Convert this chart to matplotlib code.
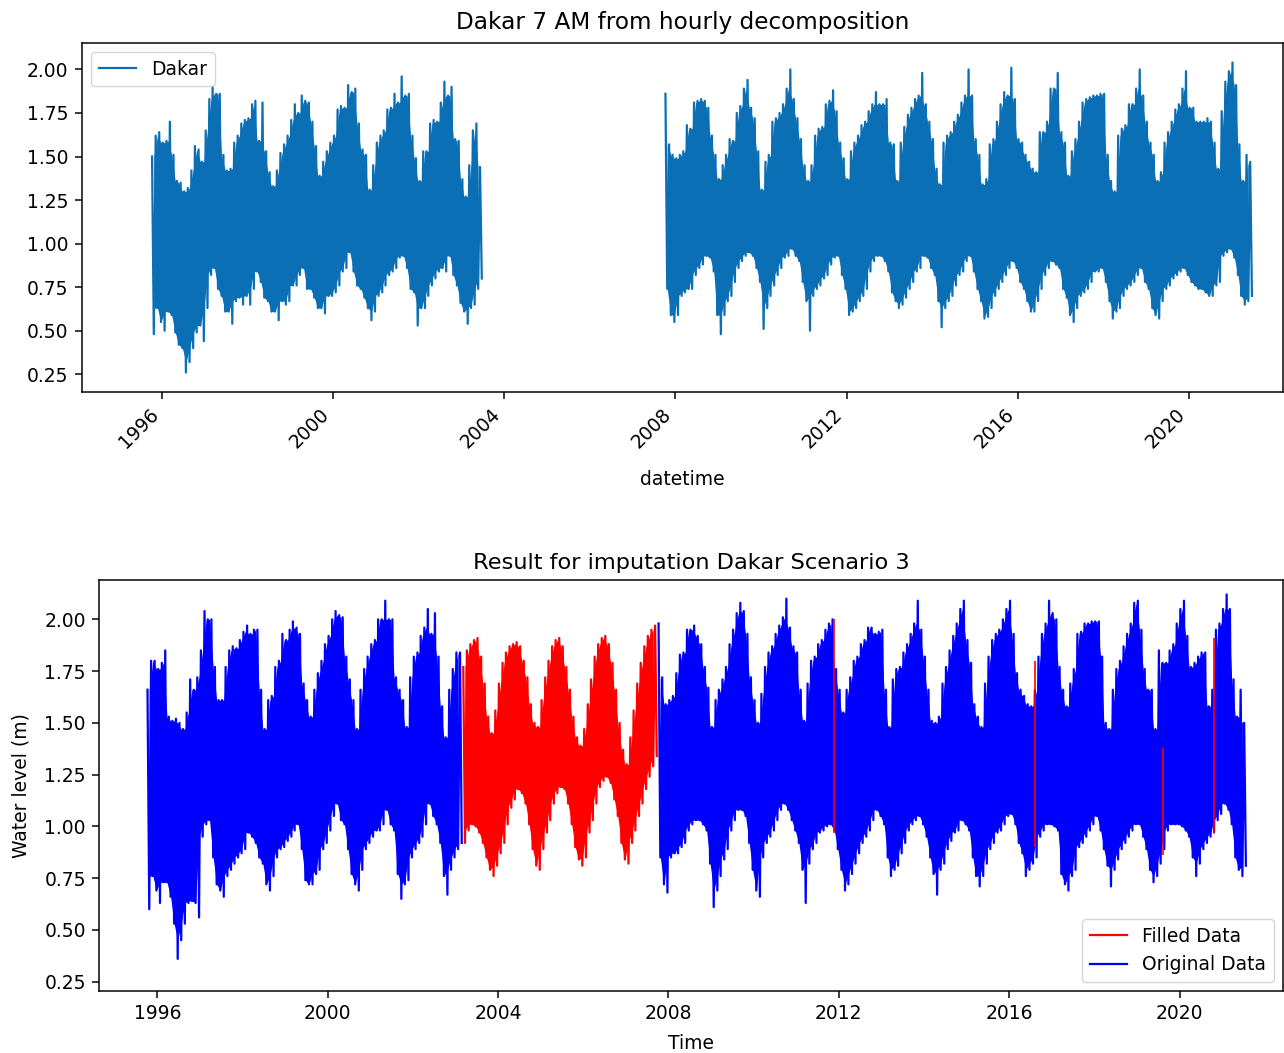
import numpy as np
import matplotlib
matplotlib.use('Agg')
import matplotlib.pyplot as plt
import matplotlib.dates as mdates

# monthly spike tops / bottoms (metres)
# top panel, first block: Oct 1995 .. Jun 2003
top_a_start = '1995-10'
top_a_hi = [1.50, 1.62, 1.64, 1.58, 1.59, 1.70, 1.51, 1.36, 1.35, 1.30, 1.32, 1.42,
            1.56, 1.54, 1.47, 1.65, 1.83, 1.90, 1.86, 1.86, 1.51, 1.42, 1.43, 1.58,
            1.62, 1.69, 1.71, 1.72, 1.80, 1.82, 1.59, 1.81, 1.53, 1.41, 1.33, 1.42,
            1.52, 1.57, 1.62, 1.71, 1.80, 1.75, 1.85, 1.82, 1.81, 1.70, 1.56, 1.39,
            1.47, 1.53, 1.58, 1.62, 1.77, 1.79, 1.78, 1.91, 1.87, 1.89, 1.69, 1.54,
            1.51, 1.31, 1.45, 1.58, 1.62, 1.65, 1.77, 1.78, 1.86, 1.81, 1.96, 1.85,
            1.86, 1.62, 1.49, 1.36, 1.53, 1.53, 1.69, 1.71, 1.70, 1.81, 1.93, 1.85,
            1.90, 1.60, 1.59, 1.37, 1.27, 1.45, 1.65, 1.69, 1.44]
top_a_lo = [0.48, 0.63, 0.55, 0.50, 0.61, 0.59, 0.49, 0.42, 0.40, 0.26, 0.32, 0.40,
            0.49, 0.53, 0.44, 0.63, 0.82, 0.86, 0.74, 0.70, 0.61, 0.61, 0.54, 0.67,
            0.69, 0.65, 0.70, 0.65, 0.74, 0.84, 0.78, 0.69, 0.67, 0.61, 0.61, 0.56,
            0.67, 0.65, 0.67, 0.76, 0.76, 0.82, 0.86, 0.74, 0.74, 0.69, 0.63, 0.63,
            0.60, 0.70, 0.70, 0.72, 0.76, 0.84, 0.86, 0.95, 0.84, 0.76, 0.74, 0.69,
            0.63, 0.56, 0.61, 0.70, 0.72, 0.76, 0.82, 0.84, 0.86, 0.92, 0.93, 0.86,
            0.74, 0.72, 0.53, 0.63, 0.63, 0.70, 0.76, 0.80, 0.84, 0.86, 0.84, 0.93,
            0.82, 0.76, 0.66, 0.61, 0.54, 0.63, 0.65, 0.74, 0.80]

# top panel, second block: Oct 2007 .. Jun 2021
top_b_start = '2007-10'
top_b_hi = [1.86, 1.57, 1.51, 1.49, 1.51, 1.53, 1.68, 1.66, 1.81, 1.82, 1.83, 1.82,
            1.78, 1.62, 1.51, 1.37, 1.45, 1.51, 1.60, 1.59, 1.75, 1.79, 1.89, 1.94,
            1.78, 1.72, 1.53, 1.31, 1.47, 1.51, 1.70, 1.72, 1.75, 1.80, 1.89, 2.00,
            1.83, 1.72, 1.60, 1.45, 1.36, 1.45, 1.62, 1.66, 1.67, 1.80, 1.82, 1.88,
            1.76, 1.58, 1.49, 1.37, 1.53, 1.58, 1.62, 1.68, 1.70, 1.76, 1.80, 1.87,
            1.80, 1.80, 1.83, 1.58, 1.57, 1.36, 1.58, 1.67, 1.74, 1.78, 1.83, 1.85,
            1.98, 1.80, 1.70, 1.60, 1.43, 1.34, 1.58, 1.62, 1.64, 1.70, 1.74, 1.81,
            1.85, 2.00, 1.85, 1.60, 1.51, 1.34, 1.37, 1.57, 1.60, 1.70, 1.80, 1.87,
            1.85, 2.01, 1.83, 1.60, 1.58, 1.51, 1.47, 1.43, 1.41, 1.64, 1.64, 1.70,
            1.89, 1.89, 1.98, 1.64, 1.58, 1.39, 1.53, 1.60, 1.70, 1.81, 1.83, 1.84,
            1.85, 1.85, 1.86, 1.86, 1.51, 1.36, 1.30, 1.62, 1.66, 1.68, 1.80, 1.80,
            1.89, 2.00, 1.85, 1.70, 1.58, 1.51, 1.36, 1.41, 1.58, 1.64, 1.70, 1.77,
            1.80, 1.89, 1.99, 1.78, 1.78, 1.70, 1.70, 1.70, 1.72, 1.70, 1.58, 1.43,
            1.76, 1.93, 1.99, 2.04, 1.91, 1.57, 1.36, 1.51, 1.47]
top_b_lo = [0.74, 0.59, 0.55, 0.59, 0.70, 0.72, 0.74, 0.74, 0.82, 0.86, 0.88, 0.93,
            0.92, 0.84, 0.59, 0.48, 0.59, 0.67, 0.70, 0.78, 0.86, 0.90, 0.93, 0.95,
            0.93, 0.86, 0.78, 0.51, 0.63, 0.70, 0.76, 0.82, 0.86, 0.92, 0.93, 0.97,
            0.93, 0.90, 0.78, 0.67, 0.50, 0.70, 0.74, 0.76, 0.80, 0.82, 0.88, 0.92,
            0.93, 0.82, 0.74, 0.59, 0.61, 0.63, 0.67, 0.70, 0.74, 0.84, 0.90, 0.93,
            0.93, 0.90, 0.84, 0.72, 0.67, 0.63, 0.65, 0.69, 0.74, 0.78, 0.84, 0.86,
            0.93, 0.92, 0.86, 0.82, 0.67, 0.52, 0.63, 0.67, 0.70, 0.76, 0.82, 0.84,
            0.90, 0.93, 0.84, 0.74, 0.67, 0.57, 0.58, 0.63, 0.70, 0.74, 0.78, 0.82,
            0.86, 0.90, 0.86, 0.78, 0.74, 0.67, 0.61, 0.61, 0.67, 0.74, 0.82, 0.86,
            0.90, 0.88, 0.86, 0.74, 0.69, 0.59, 0.55, 0.63, 0.70, 0.72, 0.74, 0.78,
            0.84, 0.84, 0.86, 0.78, 0.67, 0.57, 0.61, 0.63, 0.70, 0.74, 0.76, 0.78,
            0.82, 0.86, 0.78, 0.74, 0.63, 0.59, 0.57, 0.67, 0.74, 0.76, 0.80, 0.82,
            0.84, 0.86, 0.82, 0.78, 0.76, 0.74, 0.74, 0.72, 0.70, 0.70, 0.76, 0.78,
            0.93, 0.95, 0.97, 0.92, 0.82, 0.70, 0.65, 0.67, 0.70]

# bottom panel, original data: Oct 1995 .. Feb 2003
orig_a_start = '1995-10'
orig_a_hi = [1.66, 1.80, 1.80, 1.76, 1.79, 1.85, 1.53, 1.51, 1.52, 1.50, 1.47, 1.55,
             1.71, 1.66, 1.72, 1.85, 2.04, 2.00, 2.00, 1.77, 1.61, 1.61, 1.77, 1.85,
             1.87, 1.86, 1.90, 1.94, 1.97, 1.93, 1.95, 1.95, 1.66, 1.47, 1.61, 1.63,
             1.77, 1.80, 1.93, 1.90, 1.95, 1.99, 1.96, 1.93, 1.69, 1.61, 1.53, 1.66,
             1.74, 1.80, 1.88, 1.92, 2.00, 2.04, 2.02, 2.01, 1.82, 1.71, 1.61, 1.47,
             1.66, 1.76, 1.82, 1.88, 1.90, 2.00, 2.00, 2.09, 2.00, 2.00, 1.72, 1.66,
             1.61, 1.48, 1.72, 1.82, 1.84, 1.92, 1.96, 2.05, 1.93, 2.03, 1.82, 1.58,
             1.43, 1.66, 1.76, 1.84, 1.84]
orig_a_lo = [0.60, 0.76, 0.69, 0.63, 0.73, 0.73, 0.66, 0.53, 0.36, 0.45, 0.53, 0.63,
             0.64, 0.63, 0.56, 0.95, 1.01, 1.03, 0.85, 0.72, 0.69, 0.66, 0.76, 0.79,
             0.82, 0.85, 0.87, 0.89, 0.97, 0.95, 0.92, 0.85, 0.82, 0.72, 0.69, 0.76,
             0.85, 0.89, 0.90, 0.93, 0.95, 0.98, 1.01, 0.89, 0.74, 0.72, 0.72, 0.77,
             0.79, 0.89, 0.92, 0.98, 1.05, 1.11, 1.03, 1.01, 0.89, 0.77, 0.72, 0.69,
             0.79, 0.89, 0.92, 0.95, 0.98, 0.98, 1.01, 1.08, 1.01, 0.98, 0.77, 0.65,
             0.72, 0.74, 0.85, 0.89, 0.92, 0.95, 1.01, 1.11, 1.05, 1.01, 0.92, 0.76,
             0.67, 0.79, 0.85, 0.89, 0.92]

# bottom panel, imputed block: Mar 2003 .. Sep 2007
filled_start = '2003-03'
filled_hi = [1.77, 1.85, 1.88, 1.90, 1.91, 1.82, 1.69, 1.53, 1.45, 1.56, 1.69, 1.79,
             1.84, 1.87, 1.88, 1.89, 1.87, 1.80, 1.72, 1.59, 1.50, 1.48, 1.61, 1.72,
             1.80, 1.87, 1.90, 1.91, 1.87, 1.77, 1.66, 1.53, 1.43, 1.39, 1.47, 1.59,
             1.71, 1.82, 1.88, 1.91, 1.92, 1.88, 1.79, 1.66, 1.50, 1.37, 1.30, 1.43,
             1.56, 1.69, 1.79, 1.87, 1.92, 1.95, 1.97]
filled_lo = [0.92, 0.98, 1.01, 1.00, 0.97, 0.92, 0.85, 0.79, 0.76, 0.81, 0.87, 0.92,
             1.01, 1.09, 1.13, 1.18, 1.16, 1.11, 1.01, 0.89, 0.81, 0.79, 0.89, 0.97,
             1.03, 1.11, 1.16, 1.19, 1.18, 1.11, 1.01, 0.90, 0.84, 0.81, 0.85, 0.97,
             1.03, 1.11, 1.19, 1.22, 1.24, 1.21, 1.13, 1.05, 0.92, 0.84, 0.82, 0.92,
             0.98, 1.05, 1.11, 1.18, 1.24, 1.29, 1.34]

# bottom panel, original data: Oct 2007 .. Jul 2021
orig_b_start = '2007-10'
orig_b_hi = [1.98, 1.72, 1.59, 1.61, 1.63, 1.74, 1.83, 1.84, 1.95, 1.95, 1.97, 1.92,
             1.88, 1.77, 1.67, 1.48, 1.61, 1.66, 1.71, 1.77, 1.88, 1.95, 2.03, 2.08,
             2.04, 1.93, 1.72, 1.61, 1.50, 1.64, 1.77, 1.84, 1.87, 1.93, 1.97, 2.01,
             2.10, 1.96, 1.87, 1.84, 1.66, 1.51, 1.69, 1.80, 1.82, 1.88, 1.90, 1.95,
             1.98, 2.00, 1.76, 1.66, 1.55, 1.66, 1.72, 1.80, 1.82, 1.88, 1.90, 1.96,
             1.96, 1.93, 1.94, 1.95, 1.66, 1.48, 1.71, 1.76, 1.77, 1.84, 1.88, 1.93,
             1.98, 2.09, 1.95, 1.82, 1.66, 1.51, 1.50, 1.53, 1.69, 1.77, 1.85, 1.92,
             1.98, 2.05, 2.09, 1.90, 1.79, 1.59, 1.53, 1.48, 1.69, 1.82, 1.90, 1.93,
             1.95, 2.00, 2.05, 2.09, 1.93, 1.74, 1.66, 1.63, 1.59, 1.58, 1.66, 1.82,
             1.93, 1.98, 2.09, 2.03, 2.00, 1.77, 1.66, 1.58, 1.69, 1.76, 1.93, 1.94,
             1.98, 1.98, 1.99, 1.99, 1.99, 1.82, 1.50, 1.47, 1.66, 1.76, 1.80, 1.87,
             1.93, 1.98, 2.08, 2.09, 1.95, 1.76, 1.66, 1.66, 1.47, 1.85, 1.79, 1.79,
             1.85, 1.88, 1.98, 2.05, 2.09, 1.92, 1.77, 1.79, 1.82, 1.84, 1.84, 1.58,
             1.66, 1.95, 1.98, 2.05, 2.12, 2.05, 1.71, 1.53, 1.66, 1.50]
orig_b_lo = [0.85, 0.72, 0.68, 0.85, 0.87, 0.87, 0.90, 0.92, 0.98, 1.01, 1.03, 1.03,
             1.01, 0.98, 0.82, 0.61, 0.69, 0.76, 0.84, 0.89, 0.98, 1.03, 1.08, 1.08,
             1.05, 0.92, 0.79, 0.69, 0.66, 0.85, 0.92, 0.95, 0.98, 1.03, 1.08, 1.11,
             1.08, 1.03, 0.98, 0.92, 0.79, 0.63, 0.82, 0.89, 0.92, 0.97, 0.98, 1.00,
             1.01, 0.98, 0.89, 0.79, 0.69, 0.72, 0.77, 0.82, 0.87, 0.92, 0.95, 0.98,
             1.03, 1.08, 1.05, 1.01, 0.85, 0.76, 0.79, 0.81, 0.87, 0.92, 0.98, 1.01,
             1.03, 1.05, 1.01, 0.95, 0.85, 0.77, 0.67, 0.79, 0.82, 0.89, 0.93, 0.97,
             0.98, 1.03, 1.01, 0.98, 0.85, 0.76, 0.71, 0.76, 0.82, 0.89, 0.92, 0.97,
             0.98, 1.01, 1.05, 1.06, 1.01, 0.92, 0.87, 0.76, 0.79, 0.82, 0.85, 0.95,
             0.98, 1.01, 1.01, 1.00, 0.98, 0.77, 0.72, 0.69, 0.76, 0.79, 0.90, 0.92,
             0.95, 0.98, 1.01, 1.05, 0.98, 0.89, 0.81, 0.71, 0.79, 0.84, 0.89, 0.92,
             0.95, 0.98, 1.01, 1.01, 0.95, 0.89, 0.79, 0.73, 0.76, 0.82, 0.89, 0.98,
             1.01, 1.01, 1.01, 1.00, 0.98, 0.95, 0.85, 0.76, 0.82, 0.89, 0.92, 0.95,
             0.97, 1.03, 1.06, 1.11, 1.08, 1.01, 0.85, 0.79, 0.76, 0.81]

# short filled gaps inside the original record
gap_dates = ['2011-11-24', '2016-08-10', '2019-08-11', '2020-10-23']
gap_hi = [2.00, 1.80, 1.38, 1.91]
gap_lo = [0.97, 0.90, 0.86, 0.97]


def month_times(first_month, n, day):
    months = np.datetime64(first_month, 'M') + np.arange(n)
    return months.astype('datetime64[D]') + np.timedelta64(day, 'D')


def draw_band(ax, first_month, hi, lo, color, lw, label=None):
    hi = np.asarray(hi)
    lo = np.asarray(lo)
    n = len(hi)
    # solid core: the part every pair of neighbouring months shares
    core_hi = np.minimum(hi[:-1], hi[1:])
    core_lo = np.maximum(lo[:-1], lo[1:])
    ax.fill_between(month_times(first_month, n - 1, 22), core_lo, core_hi,
                    color=color, lw=0)
    # spikes: monthly top and bottom joined up
    t = np.empty(2 * n, dtype='datetime64[D]')
    t[0::2] = month_times(first_month, n, 7)
    t[1::2] = month_times(first_month, n, 22)
    y = np.empty(2 * n)
    y[0::2] = hi
    y[1::2] = lo
    line, = ax.plot(t, y, color=color, lw=lw, label=label)
    return line


plt.rcParams.update({
    'font.family': 'DejaVu Sans',
    'font.size': 13.5,
    'axes.titlesize': 16.2,
    'axes.labelsize': 13.5,
    'xtick.labelsize': 13.5,
    'ytick.labelsize': 13.5,
    'legend.fontsize': 13.5,
    'axes.linewidth': 1.08,
    'xtick.major.size': 4.7,
    'ytick.major.size': 4.7,
    'xtick.major.width': 1.08,
    'ytick.major.width': 1.08,
    'xtick.major.pad': 4.7,
    'ytick.major.pad': 4.7,
    'axes.titlepad': 8.1,
    'axes.labelpad': 5.4,
})

fig = plt.figure(figsize=(12.84, 10.53), dpi=100)
ax1 = fig.add_axes([0.0636, 0.628, 0.9356, 0.3314])
ax2 = fig.add_axes([0.0771, 0.0589, 0.9221, 0.3903])

lw = 1.6
top_col = '#0b6fb6'

# top panel
draw_band(ax1, top_a_start, top_a_hi, top_a_lo, top_col, lw, label='Dakar')
draw_band(ax1, top_b_start, top_b_hi, top_b_lo, top_col, lw)
ax1.set_title('Dakar 7 AM from hourly decomposition', fontsize=16.7, pad=10)
ax1.set_xlabel('datetime', labelpad=13)
ax1.set_ylim(0.150, 2.153)
ax1.set_yticks(np.arange(0.25, 2.01, 0.25))
ax1.set_xlim(np.datetime64('1994-02-14'), np.datetime64('2022-03-15'))
ax1.xaxis.set_major_locator(mdates.YearLocator(4))
ax1.xaxis.set_major_formatter(mdates.DateFormatter('%Y'))
plt.setp(ax1.get_xticklabels(), rotation=45, ha='right')
ax1.legend(loc='upper left')

# bottom panel
red_line = draw_band(ax2, filled_start, filled_hi, filled_lo, 'red', lw,
                     label='Filled Data')
blue_line = draw_band(ax2, orig_a_start, orig_a_hi, orig_a_lo, 'blue', lw,
                      label='Original Data')
draw_band(ax2, orig_b_start, orig_b_hi, orig_b_lo, 'blue', lw)
ax2.vlines(np.array(gap_dates, dtype='datetime64[D]'), gap_lo, gap_hi,
           colors='red', lw=1.2, zorder=3)
ax2.set_title('Result for imputation Dakar Scenario 3')
ax2.set_xlabel('Time', labelpad=8)
ax2.set_ylabel('Water level (m)', labelpad=10)
ax2.set_ylim(0.205, 2.19)
ax2.set_yticks(np.arange(0.25, 2.01, 0.25))
ax2.set_xlim(np.datetime64('1994-08-18'), np.datetime64('2022-06-06'))
ax2.xaxis.set_major_locator(mdates.YearLocator(4))
ax2.xaxis.set_major_formatter(mdates.DateFormatter('%Y'))
ax2.legend(handles=[red_line, blue_line], loc='lower right')

fig.savefig('out.png', dpi=100)
